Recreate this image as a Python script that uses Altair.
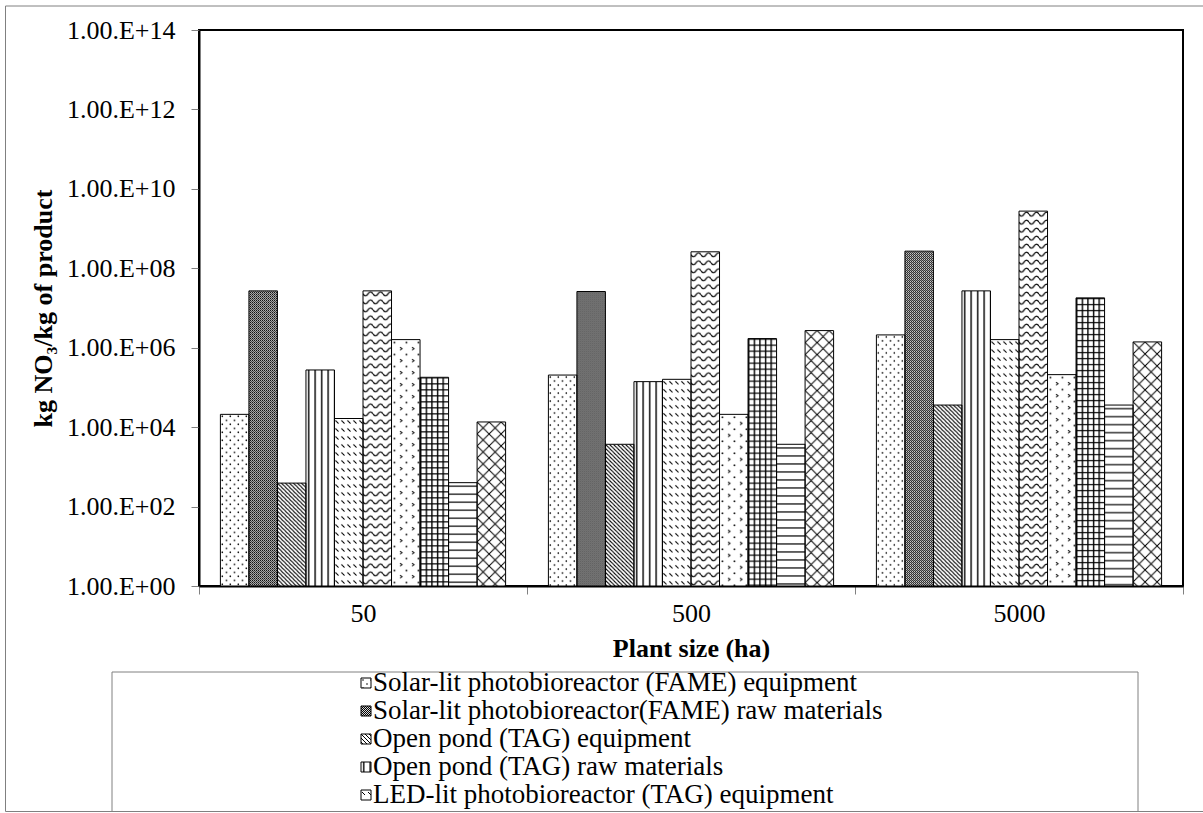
import altair as alt
import pandas as pd
from urllib.parse import quote

# Plant sizes on the category axis (ha)
sizes = ["50", "500", "5000"]

# Series, in drawing order inside each plant-size group
series = [
    "Solar-lit photobioreactor (FAME) equipment",
    "Solar-lit photobioreactor(FAME) raw materials",
    "Open pond (TAG) equipment",
    "Open pond (TAG) raw materials",
    "LED-lit photobioreactor (TAG) equipment",
    "LED-lit photobioreactor (TAG) raw materials",
    "Solar-lit photobioreactor (TAG) equipment",
    "Solar-lit photobioreactor (TAG) raw materials",
    "Open pond (FAME) equipment",
    "Open pond (FAME) raw materials",
]

# kg NO3 / kg of product for 50, 500 and 5000 ha plants
solar_fame_equipment = [2.1e4, 2.05e5, 2.1e6]
solar_fame_raw = [2.7e7, 2.6e7, 2.7e8]
pond_tag_equipment = [3.9e2, 3.7e3, 3.6e4]
pond_tag_raw = [2.75e5, 1.4e5, 2.7e7]
led_tag_equipment = [1.65e4, 1.6e5, 1.6e6]
led_tag_raw = [2.7e7, 2.6e8, 2.75e9]
solar_tag_equipment = [1.6e6, 2.1e4, 2.1e5]
solar_tag_raw = [1.8e5, 1.7e6, 1.8e7]
pond_fame_equipment = [4.0e2, 3.7e3, 3.6e4]
pond_fame_raw = [1.35e4, 2.7e6, 1.4e6]

series_values = [
    solar_fame_equipment, solar_fame_raw, pond_tag_equipment, pond_tag_raw,
    led_tag_equipment, led_tag_raw, solar_tag_equipment, solar_tag_raw,
    pond_fame_equipment, pond_fame_raw,
]

# Monochrome hatch fills, one SVG tile per series
def hatch(w, h, body):
    svg = (
        "<svg xmlns='http://www.w3.org/2000/svg' width='100%' height='100%'>"
        f"<defs><pattern id='p' width='{w}' height='{h}' patternUnits='userSpaceOnUse'>{body}</pattern></defs>"
        "<rect width='100%' height='100%' fill='white'/>"
        "<rect width='100%' height='100%' fill='url(#p)'/></svg>"
    )
    return "data:image/svg+xml," + quote(svg)

K = "stroke='black' fill='none'"
hatches = [
    hatch(8, 8, "<circle cx='2' cy='2' r='0.8' fill='black'/><circle cx='6' cy='6' r='0.8' fill='black'/>"),
    hatch(2, 2, "<rect width='2' height='2' fill='#d8d8d8'/><rect width='1' height='1' fill='black'/>"
                "<rect x='1' y='1' width='1' height='1' fill='black'/>"),
    hatch(4, 4, f"<path d='M-1,-1 L5,5 M-1,3 L1,5 M3,-1 L5,1' {K} stroke-width='1'/>"),
    hatch(6.5, 4, "<rect x='2' width='1.4' height='4' fill='black'/>"),
    hatch(6, 8, f"<path d='M1,2 L4,5' {K} stroke-width='1'/>"),
    hatch(10, 8, f"<path d='M0,3 Q2.5,7 5,3 Q7.5,-1 10,3' {K} stroke-width='1.3'/>"),
    hatch(12, 12, f"<circle cx='3' cy='3' r='0.9' fill='black'/><path d='M8.5,7.5 L10.5,9 L8.5,10.5' {K} stroke-width='1'/>"),
    hatch(5.6, 6, "<rect width='1.4' height='6' fill='black'/><rect width='5.6' height='1.2' fill='black'/>"),
    hatch(4, 8, "<rect y='3' width='4' height='1.2' fill='black'/>"),
    hatch(12, 12, f"<path d='M0,0 L12,12 M12,0 L0,12' {K} stroke-width='1'/>"),
]
outline_widths = [1, 1, 1, 1, 1, 3, 2, 2, 1, 1]

rows = []
for i, (name, vals) in enumerate(zip(series, series_values)):
    for size, v in zip(sizes, vals):
        rows.append({"size": size, "series": name, "value": v, "url": hatches[i]})
df = pd.DataFrame(rows)

FONT = "Liberation Serif"

# Category bands fill the whole width so that ticks fall on the group boundaries;
# the gap between groups comes from the outer padding of the offset scale.
x = alt.X(
    "size:N", sort=sizes, title="Plant size (ha)",
    scale=alt.Scale(paddingInner=0, paddingOuter=0),
    axis=alt.Axis(
        labelAngle=0, labelFont=FONT, labelFontSize=26, labelColor="black", labelPadding=6,
        tickSize=8, tickColor="#808080", tickWidth=1, tickBand="extent",
        domainColor="black", domainWidth=2,
        titleFont=FONT, titleFontSize=26, titleFontWeight="bold", titleColor="black",
        titleY=62, titleBaseline="middle",
    ),
)
xo = alt.XOffset("series:N", sort=series, scale=alt.Scale(paddingInner=0, paddingOuter=0.75))
y = alt.Y(
    "value:Q", title="kg NO₃/kg of product",
    scale=alt.Scale(type="log", domain=[1, 1e14]),
    axis=alt.Axis(
        values=[10 ** k for k in range(0, 15, 2)],
        labelExpr="'1.00.E+' + (round(log(datum.value)/LN10) < 10 ? '0' : '') + round(log(datum.value)/LN10)",
        labelFont=FONT, labelFontSize=26, labelColor="black", labelPadding=16,
        tickSize=8, tickColor="#808080", tickWidth=1, grid=False,
        domainColor="black", domainWidth=2,
        titleFont=FONT, titleFontSize=26, titleFontWeight="bold", titleColor="black",
        titleX=-156, titleY=278, titleBaseline="middle",
    ),
)

base = alt.Chart(df)
fills = base.mark_image(aspect=False).encode(x=x, xOffset=xo, y=y, y2=alt.datum(1), url="url:N")
outlines = base.mark_bar(fill="transparent", stroke="black").encode(
    x=x, xOffset=xo, y=y, y2=alt.datum(1),
    strokeWidth=alt.StrokeWidth("series:N", scale=alt.Scale(domain=series, range=outline_widths), legend=None),
)
plot = alt.layer(fills, outlines)

# Legend box under the plot; only the entries that fit inside it are listed
leg = pd.DataFrame({"series": series, "idx": list(range(len(series))), "url": hatches})
leg_base = alt.Chart(leg).transform_filter("datum.idx < 5")
ly = alt.Y("idx:O", scale=alt.Scale(type="point", range=[653, 765], padding=0), axis=None)
frame = pd.DataFrame({"k": [0]})
outer_box = alt.Chart(frame).mark_rect(fill="transparent", stroke="#808080", strokeWidth=1).encode(
    x=alt.value(-193.5), x2=alt.value(1004.5), y=alt.value(-24), y2=alt.value(781.5)
)
legend_box = alt.Chart(frame).mark_rect(fill="transparent", stroke="#808080", strokeWidth=1).encode(
    x=alt.value(-87), x2=alt.value(939), y=alt.value(642), y2=alt.value(781.5)
)
leg_imgs = leg_base.mark_image(width=10, height=10, aspect=False, align="center", baseline="middle").encode(
    x=alt.value(167), y=ly, url="url:N"
)
leg_keys = leg_base.mark_square(size=100, fill="transparent", stroke="black", strokeWidth=1, opacity=1).encode(
    x=alt.value(167), y=ly
)
leg_text = leg_base.mark_text(align="left", baseline="middle", font=FONT, fontSize=27, color="black").encode(
    x=alt.value(174), y=ly, text="series:N"
)
legend = alt.layer(outer_box, legend_box, leg_imgs, leg_keys, leg_text)

chart = (
    alt.layer(plot, legend)
    .resolve_scale(y="independent")
    .properties(
        width=984, height=556,
        padding={"left": 199, "top": 30, "right": 20, "bottom": 227},
        autosize=alt.AutoSizeParams(type="none"),
        background="white",
    )
    .configure_view(stroke="black", strokeWidth=2)
)

chart.save("out.html", embed_options={"renderer": "svg", "actions": False})
